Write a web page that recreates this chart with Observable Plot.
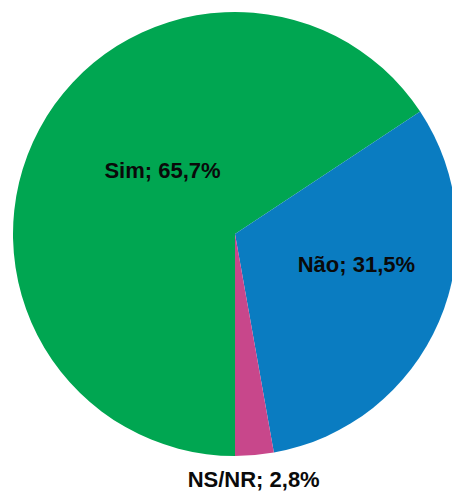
<!DOCTYPE html>
<html>
<head>
<meta charset="utf-8">
<script src="https://cdn.jsdelivr.net/npm/d3@7"></script>
<script src="https://cdn.jsdelivr.net/npm/@observablehq/plot@0.6"></script>
<style>
  html, body { margin: 0; padding: 0; background: #fff; overflow: hidden; }
  #chart svg { display: block; }
</style>
</head>
<body>
<div id="chart"></div>
<script>
const categories = ["Sim", "Não", "NS/NR"];
const values = [65.7, 31.5, 2.8];
const labels = ["Sim; 65,7%", "Não; 31,5%", "NS/NR; 2,8%"];
const colors = ["#00A651", "#0A7CC1", "#C8478B"];

const W = 452, H = 493;
const cxPx = 235, cyPx = 234, Rpx = 222;

// pie geometry (first slice starts at 6 o'clock, clockwise)
const arcs = d3.pie().sort(null).value(d => d).startAngle(Math.PI).endAngle(3 * Math.PI)(values);

// label placement relative to slice mid-angle (radius fraction, angle offset in degrees)
const labelRadius = [0.437, 0.561, 1.107];
const labelOffset = [12.9, -9.3, 0.8];
const labelData = arcs.map((a, i) => {
  const mid = (a.startAngle + a.endAngle) / 2 + labelOffset[i] * Math.PI / 180;
  return { label: labels[i], x: Math.sin(mid) * labelRadius[i], y: Math.cos(mid) * labelRadius[i] };
});

const chart = Plot.plot({
  width: W,
  height: H,
  margin: 0,
  x: { domain: [-cxPx / Rpx, (W - cxPx) / Rpx], axis: null },
  y: { domain: [-(H - cyPx) / Rpx, cyPx / Rpx], axis: null },
  style: { background: "#fff", overflow: "hidden" },
  marks: [
    (index, scales) => {
      const cx = scales.x(0), cy = scales.y(0), R = scales.x(1) - cx;
      const arc = d3.arc().innerRadius(0).outerRadius(R);
      const g = d3.create("svg:g").attr("transform", `translate(${cx},${cy})`);
      g.selectAll("path").data(arcs).join("path")
        .attr("d", arc)
        .attr("fill", d => colors[d.index]);
      return g.node();
    },
    Plot.text(labelData, {
      x: "x", y: "y", text: "label",
      fontSize: 22, fontWeight: "bold", fill: "#0a0a0a",
      fontFamily: "Liberation Sans, Arial, sans-serif"
    })
  ]
});
document.getElementById("chart").append(chart);
</script>
</body>
</html>
